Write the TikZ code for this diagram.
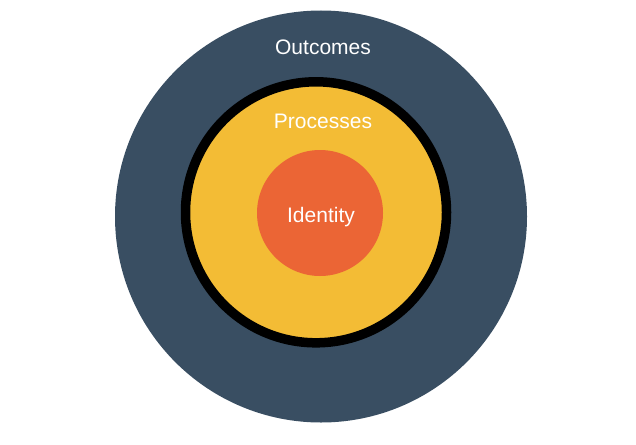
\documentclass[tikz,border=0pt]{standalone}
\usepackage{fontspec}
\setmainfont{Liberation Sans}
\definecolor{outerblue}{HTML}{394E62}
\definecolor{midyellow}{HTML}{F3BC35}
\definecolor{coreorange}{HTML}{EB6535}
\begin{document}
\begin{tikzpicture}[x=1pt,y=-1pt,
  ring/.style={circle,inner sep=0pt,outer sep=0pt},
  label/.style={text=white,font=\fontsize{21}{25}\selectfont,inner sep=0pt}]
\useasboundingbox (0,0) rectangle (636,444);
% outer layer
\node[ring,fill=outerblue,minimum size=412pt] (outcomes) at (321,216.5) {};
% middle layer with its thick black rim
\node[ring,fill=midyellow,draw=black,line width=9.5pt,minimum size=261pt] (processes) at (316,212.3) {};
% core
\node[ring,fill=coreorange,minimum size=126pt] (identity) at (320,213) {};
% texts
\node[label] (tout) at (323,47) {Outcomes};
\node[label] (tproc) at (323,121) {Processes};
\node[label] (tid) at (321,217) {Identity};
\end{tikzpicture}
\end{document}
